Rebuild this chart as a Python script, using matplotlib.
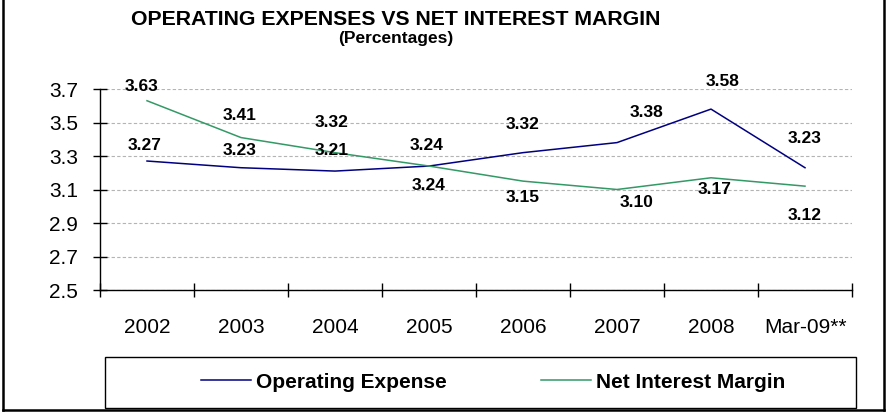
import matplotlib
matplotlib.use("Agg")
import matplotlib.pyplot as plt
from matplotlib.lines import Line2D
from matplotlib.patches import Rectangle

CATEGORIES = ["2002", "2003", "2004", "2005", "2006", "2007", "2008", "Mar-09**"]
OPEX = [3.27, 3.23, 3.21, 3.24, 3.32, 3.38, 3.58, 3.23]
NIM = [3.63, 3.41, 3.32, 3.24, 3.15, 3.10, 3.17, 3.12]
Y_TICKS = [2.5, 2.7, 2.9, 3.1, 3.3, 3.5, 3.7]

# label nudges in pixels (dx, dy) so the value labels sit where the source chart put them
OPEX_SHIFT = [(-2, 16), (-1, 17), (-3, 21), (-2, 21), (0, 28), (30, 30), (12, 28), (0, 29)]
NIM_SHIFT = [(-5, 14), (-1, 22), (-3, 30), (0, -19), (0, -16), (20, -13), (4, -12), (0, -29)]

NAVY = "#000080"
GREEN = "#339966"

plt.rcParams["font.family"] = ["Liberation Sans", "DejaVu Sans"]

W, H = 888, 412


def main():
    fig = plt.figure(figsize=(W / 100, H / 100), dpi=100)
    ax = fig.add_axes([100 / W, 1 - 290 / H, 752 / W, 201 / H])

    xs = list(range(len(CATEGORIES)))
    ax.plot(xs, OPEX, color=NAVY, lw=1.1, zorder=3)
    ax.plot(xs, NIM, color=GREEN, lw=1.1, zorder=3)

    for vals, shifts in ((OPEX, OPEX_SHIFT), (NIM, NIM_SHIFT)):
        for i, (v, (dx, dy)) in enumerate(zip(vals, shifts)):
            ax.annotate(f"{v:.2f}", (i, v), xytext=(dx, dy), textcoords="offset pixels",
                        ha="center", va="center", fontsize=12.5, fontweight="bold")

    ax.set_ylim(2.5, 3.7)
    ax.set_yticks(Y_TICKS)
    ax.set_yticklabels([f"{t:.1f}" for t in Y_TICKS], fontsize=15)
    ax.tick_params(axis="y", direction="inout", length=9.5, width=1, pad=11)
    ax.yaxis.grid(True, linestyle=(0, (3, 2)), color="#b4b4b4", lw=0.8)
    ax.set_axisbelow(True)

    ax.set_xlim(-0.5, len(CATEGORIES) - 0.5)
    ax.set_xticks(xs)
    ax.set_xticklabels(CATEGORIES, fontsize=15)
    ax.set_xticks([i - 0.5 for i in range(len(CATEGORIES) + 1)], minor=True)
    ax.tick_params(axis="x", which="major", length=0, pad=20)
    ax.tick_params(axis="x", which="minor", direction="inout", length=10, width=1)

    for s in ("top", "right"):
        ax.spines[s].set_visible(False)
    for s in ("left", "bottom"):
        ax.spines[s].set_linewidth(1)

    # titles
    fig.text(396 / W, 1 - 25 / H, "OPERATING EXPENSES VS NET INTEREST MARGIN",
             ha="center", va="baseline", fontsize=15.3, fontweight="bold")
    fig.text(396 / W, 1 - 43 / H, "(Percentages)",
             ha="center", va="baseline", fontsize=12.5, fontweight="bold")

    # legend box
    fig.add_artist(Rectangle((105 / W, 1 - 408 / H), 751 / W, 51 / H,
                             transform=fig.transFigure, facecolor="white",
                             edgecolor="black", lw=1))
    handles = [Line2D([0], [0], color=NAVY, lw=1.1, label="Operating Expense"),
               Line2D([0], [0], color=GREEN, lw=1.1, label="Net Interest Margin")]
    fig.legend(handles=handles, loc="center", bbox_to_anchor=(493 / W, 1 - 382 / H),
               ncol=2, frameon=False, handlelength=2.4, handletextpad=0.25,
               columnspacing=4.5, prop={"weight": "bold", "size": 15})

    # outer chart border (left, right, bottom)
    bottom = 1 - 410 / H
    for xx, yy in (([3 / W, 3 / W], [1, bottom]),
                   ([884 / W, 884 / W], [1, bottom]),
                   ([3 / W, 884 / W], [bottom, bottom])):
        fig.add_artist(Line2D(xx, yy, transform=fig.transFigure, color="black", lw=1.8))

    fig.savefig("out.png", dpi=100)
    plt.close(fig)


if __name__ == "__main__":
    main()
